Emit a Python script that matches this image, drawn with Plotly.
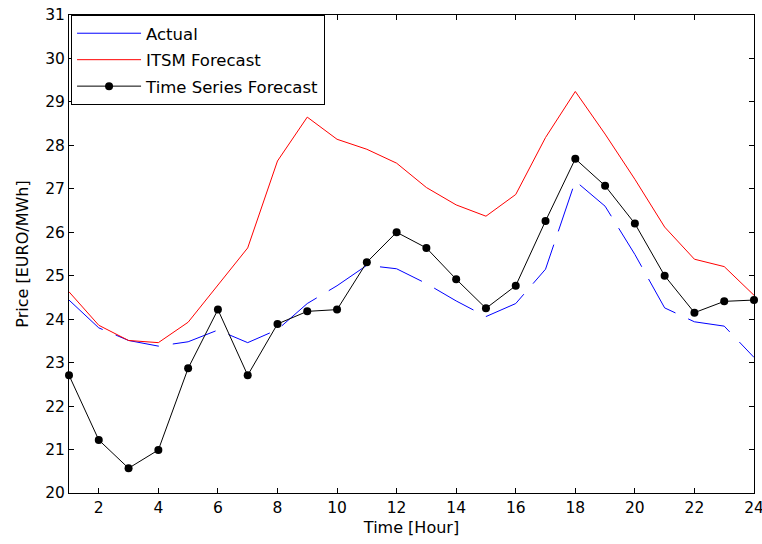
import plotly.graph_objects as go

# Hourly day-ahead electricity prices: measured vs. two forecasting models
hours = list(range(1, 25))

actual = [24.44, 23.80, 23.51, 23.38, 23.48, 23.75, 23.46, 23.76, 24.36, 24.77,
          25.24, 25.16, 24.82, 24.42, 24.06, 24.36, 25.15, 27.18, 26.60, 25.49,
          24.26, 23.94, 23.84, 23.12]

itsm_forecast = [24.63, 23.86, 23.51, 23.46, 23.93, 24.79, 25.64, 27.64, 28.65, 28.14,
                 27.91, 27.59, 27.03, 26.63, 26.37, 26.87, 28.18, 29.24, 28.26, 27.22,
                 26.12, 25.38, 25.21, 24.55]

ts_forecast = [22.71, 21.22, 20.57, 20.99, 22.87, 24.22, 22.71, 23.89, 24.18, 24.22,
               25.31, 26.00, 25.64, 24.92, 24.25, 24.77, 26.26, 27.69, 27.07, 26.20,
               25.00, 24.15, 24.41, 24.44]

x_ticks = list(range(2, 25, 2))
y_ticks = list(range(20, 32))

FONT = "DejaVu Sans"
BLUE, RED, BLACK = "#0000ff", "#ff0000", "#000000"

fig = go.Figure()

# Measured price, long dashes (its legend key is drawn solid by the entry below)
fig.add_trace(go.Scatter(
    x=hours, y=actual, name="Actual", mode="lines",
    line=dict(color=BLUE, width=1, dash="45px,14px"),
    legendgroup="a", showlegend=False, cliponaxis=False,
))
fig.add_trace(go.Scatter(
    x=[None], y=[None], name="Actual", mode="lines",
    line=dict(color=BLUE, width=1),
    legendgroup="a", showlegend=True,
))
fig.add_trace(go.Scatter(
    x=hours, y=itsm_forecast, name="ITSM Forecast", mode="lines",
    line=dict(color=RED, width=1),
    legendgroup="b", cliponaxis=False,
))
fig.add_trace(go.Scatter(
    x=hours, y=ts_forecast, name="Time Series Forecast", mode="lines+markers",
    line=dict(color=BLACK, width=1),
    marker=dict(color=BLACK, size=8),
    legendgroup="c", cliponaxis=False,
))

axis_common = dict(
    showline=True, linecolor="black", linewidth=1, mirror="ticks",
    ticks="inside", ticklen=5, tickcolor="black", tickwidth=1,
    showgrid=False, zeroline=False, automargin=False,
    ticklabeloverflow="allow",
    tickfont=dict(family=FONT, size=15.5, color="black"),
)

fig.update_layout(
    width=762, height=544,
    margin=dict(l=69, r=8, t=15, b=51),
    paper_bgcolor="white", plot_bgcolor="white",
    font=dict(family=FONT, color="black"),
    xaxis=dict(
        range=[1, 24], tickvals=x_ticks,
        title=dict(text="Time [Hour]", font=dict(family=FONT, size=16), standoff=6),
        **axis_common,
    ),
    yaxis=dict(
        range=[20, 31], tickvals=y_ticks,
        title=dict(text="Price [EURO/MWh]", font=dict(family=FONT, size=16), standoff=12),
        **axis_common,
    ),
    legend=dict(
        x=0.003, y=1.0, xanchor="left", yanchor="top",
        bgcolor="white", bordercolor="black", borderwidth=1,
        font=dict(family=FONT, size=16.5, color="black"),
        traceorder="grouped", tracegroupgap=2, itemwidth=64,
    ),
    showlegend=True,
)

fig.write_html("out.html")
